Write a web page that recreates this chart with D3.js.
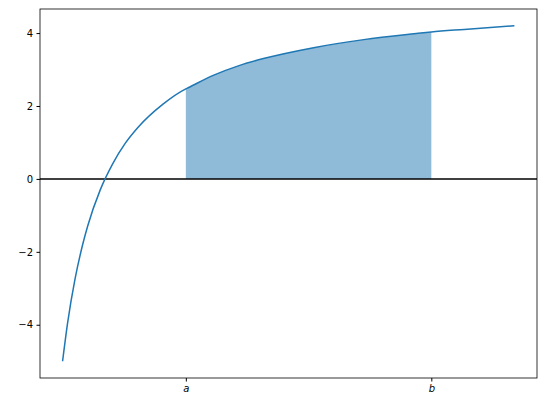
<!DOCTYPE html><html><head><script src="https://cdn.jsdelivr.net/npm/d3@7"></script>
<style>body{margin:0;background:#fff}text{font-family:"DejaVu Sans";font-size:10px}</style></head><body>
<svg id="c" width="546" height="414"></svg>
<script>
const xs=[1,1.1,1.25,1.4,1.5,1.75,2,2.25,2.5,3,3.455,3.5,4,4.5,5,6,7,8,8.345,9,10];
const ys=[-5.0,-3.95,-2.73,-1.80,-1.29,-0.30,0.42,0.98,1.41,2.05,2.47,2.50,2.84,3.10,3.30,3.60,3.82,3.98,4.03,4.10,4.20];
const aVal=3.455,bVal=8.345;
const xTickLabels=["a","b"];
const yTicks=[-4,-2,0,2,4];
const L=40,R=537,T=9,B=378;
const x=d3.scaleLinear().domain([1-0.45,10+0.45]).range([L,R]);
const y=d3.scaleLinear().domain([-5.46,4.66]).range([B,T]);
const svg=d3.select("#c");
const pts=xs.map((v,i)=>[v,ys[i]]);
const inside=pts.filter(p=>p[0]>=aVal&&p[0]<=bVal);
const area=d3.area().x(d=>x(d[0])).y0(y(0)).y1(d=>y(d[1])).curve(d3.curveMonotoneX);
svg.append("path").attr("d",area(inside)).attr("fill","#1f77b4").attr("fill-opacity",0.5);
svg.append("line").attr("x1",L).attr("x2",R).attr("y1",y(0)).attr("y2",y(0)).attr("stroke","#000").attr("stroke-width",1.5);
svg.append("path").attr("d",d3.line().x(d=>x(d[0])).y(d=>y(d[1])).curve(d3.curveMonotoneX)(pts)).attr("fill","none").attr("stroke","#1f77b4").attr("stroke-width",1.5);
svg.append("g").attr("transform",`translate(0,${B})`).call(d3.axisBottom(x).tickValues([aVal,bVal]).tickFormat((d,i)=>xTickLabels[i]).tickSize(3.5).tickPadding(3.5))
 .call(g=>{g.select(".domain").remove();g.selectAll("text").style("font-style","italic").attr("font-size",10).attr("fill","#000");});
svg.append("g").attr("transform",`translate(${L},0)`).call(d3.axisLeft(y).tickValues(yTicks).tickFormat(d=>d<0?"\u2212"+(-d):d).tickSize(3.5).tickPadding(3.5))
 .call(g=>{g.select(".domain").remove();g.selectAll("text").attr("font-size",10).attr("fill","#000");});
svg.append("rect").attr("x",L).attr("y",T).attr("width",R-L).attr("height",B-T).attr("fill","none").attr("stroke","#000").attr("stroke-width",0.8);
</script></body></html>
